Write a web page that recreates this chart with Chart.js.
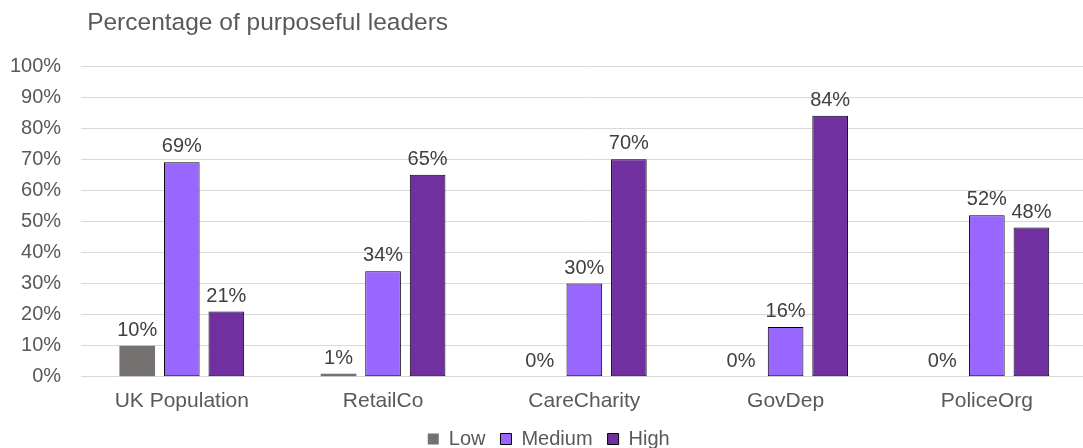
<!DOCTYPE html>
<html><head><meta charset="utf-8">
<script src="https://cdn.jsdelivr.net/npm/chart.js@4.4.0/dist/chart.umd.min.js"></script>
<style>html,body{margin:0;padding:0;background:#fff;overflow:hidden}#wrap{width:1100px;height:448px}</style>
</head><body><div id="wrap"><canvas id="c" width="1100" height="448"></canvas></div>
<script>
const categories = ["UK Population", "RetailCo", "CareCharity", "GovDep", "PoliceOrg"];
const lowValues = [10, 1, 0, 0, 0];
const mediumValues = [69, 34, 30, 16, 52];
const highValues = [21, 65, 70, 84, 48];
const seriesNames = ["Low", "Medium", "High"];
const yTicks = [0, 10, 20, 30, 40, 50, 60, 70, 80, 90, 100];
const chartTitle = 'Percentage of purposeful leaders';

const FONT = '"Liberation Sans", Arial, sans-serif';

const titlePlugin = {
  id: 'leftTitle',
  afterDraw(chart) {
    const ctx = chart.ctx;
    ctx.save();
    ctx.font = '24.5px ' + FONT;
    ctx.fillStyle = '#595959';
    ctx.textAlign = 'left';
    ctx.textBaseline = 'alphabetic';
    ctx.fillText(chartTitle, chart.chartArea.left + 6, 30);
    ctx.restore();
  }
};

const labelPlugin = {
  id: 'valLabels',
  afterDatasetsDraw(chart) {
    const ctx = chart.ctx;
    ctx.save();
    ctx.font = '20px ' + FONT;
    ctx.fillStyle = '#404040';
    ctx.textAlign = 'center';
    ctx.textBaseline = 'alphabetic';
    chart.data.datasets.forEach((ds, i) => {
      const meta = chart.getDatasetMeta(i);
      meta.data.forEach((bar, j) => {
        ctx.fillText(ds.data[j] + '%', bar.x, bar.y - 10);
      });
    });
    ctx.restore();
  }
};

new Chart(document.getElementById('c'), {
  type: 'bar',
  data: {
    labels: categories,
    datasets: [
      { label: seriesNames[0], data: lowValues, backgroundColor: '#767171', borderWidth: 0 },
      { label: seriesNames[1], data: mediumValues, backgroundColor: '#9966FF', borderColor: '#000', borderWidth: 1, borderSkipped: false },
      { label: seriesNames[2], data: highValues, backgroundColor: '#7030A0', borderColor: '#000', borderWidth: 1, borderSkipped: false }
    ]
  },
  options: {
    responsive: false,
    animation: false,
    devicePixelRatio: 1,
    layout: { padding: { left: 10, right: 12.5, top: 66, bottom: -11 } },
    datasets: { bar: { barPercentage: 0.80, categoryPercentage: 0.664 } },
    plugins: {
      title: { display: false },
      legend: {
        position: 'bottom',
        labels: { boxWidth: 11, boxHeight: 11, color: '#595959', padding: 15,
          font: { family: FONT, size: 20 } }
      },
      tooltip: { enabled: false }
    },
    scales: {
      x: {
        grid: { display: false, drawTicks: false },
        border: { color: '#d9d9d9' },
        ticks: { color: '#595959', padding: 12, font: { family: FONT, size: 21 } },
        afterFit(scale) { scale.height -= 12; }
      },
      y: {
        min: 0, max: 100,
        afterBuildTicks(axis) { axis.ticks = yTicks.map(v => ({ value: v })); },
        grid: { color: '#d9d9d9', drawTicks: false },
        border: { display: false },
        ticks: { color: '#595959', padding: 20, callback: v => v + '%',
          font: { family: FONT, size: 20 } },
        afterFit(scale) { scale.width -= 20; }
      }
    }
  },
  plugins: [labelPlugin, titlePlugin]
});
</script></body></html>
